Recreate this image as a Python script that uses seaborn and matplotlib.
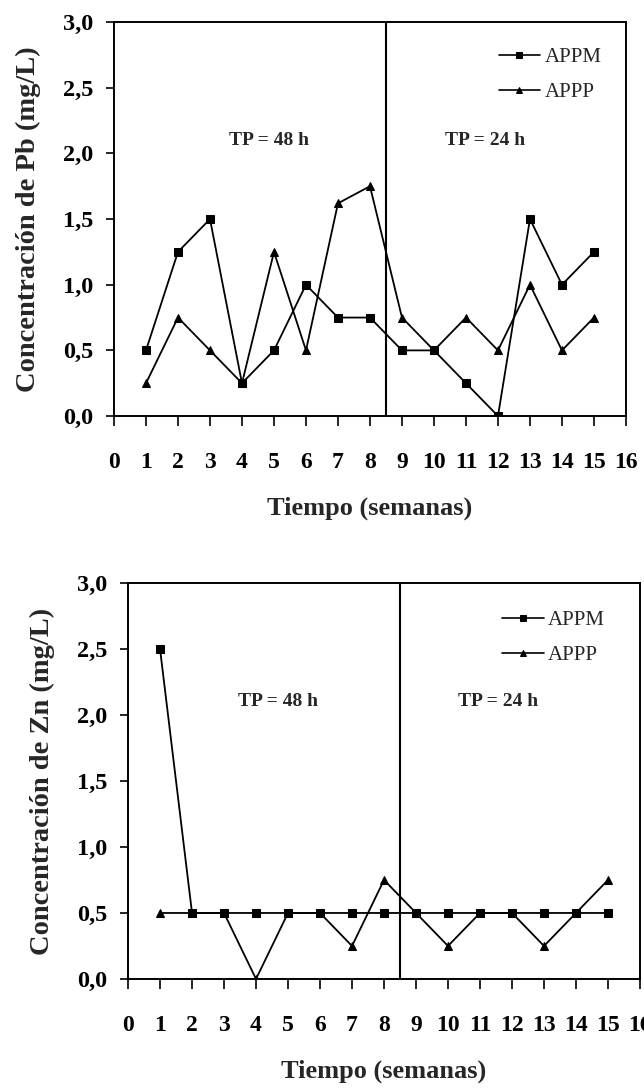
import matplotlib
matplotlib.use("Agg")
import matplotlib.pyplot as plt
import seaborn as sns
import pandas as pd
from matplotlib.ticker import FuncFormatter

weeks = list(range(1, 16))
pb_appm = [0.5, 1.25, 1.5, 0.25, 0.5, 1.0, 0.75, 0.75, 0.5, 0.5, 0.25, 0.0, 1.5, 1.0, 1.25]
pb_appp = [0.25, 0.75, 0.5, 0.25, 1.25, 0.5, 1.62, 1.75, 0.75, 0.5, 0.75, 0.5, 1.0, 0.5, 0.75]
zn_appm = [2.5, 0.5, 0.5, 0.5, 0.5, 0.5, 0.5, 0.5, 0.5, 0.5, 0.5, 0.5, 0.5, 0.5, 0.5]
zn_appp = [0.5, 0.5, 0.5, 0.0, 0.5, 0.5, 0.25, 0.75, 0.5, 0.25, 0.5, 0.5, 0.25, 0.5, 0.75]
series_names = ["APPM", "APPP"]
x_ticks = list(range(0, 17))
y_ticks = [0.0, 0.5, 1.0, 1.5, 2.0, 2.5, 3.0]
period_split = 8.5
period_labels = ["TP = 48 h", "TP = 24 h"]
ylabels = ["Concentración de Pb (mg/L)", "Concentración de Zn (mg/L)"]
xlabel = "Tiempo (semanas)"

sns.set_style("ticks")
plt.rcParams["font.family"] = ["Liberation Serif", "DejaVu Serif"]

fig = plt.figure(figsize=(6.44, 10.88), dpi=100)
ax1 = fig.add_axes([0.177, 0.6176, 0.795, 0.3621])
ax2 = fig.add_axes([0.1988, 0.1002, 0.795, 0.364])

datasets = [(pb_appm, pb_appp), (zn_appm, zn_appp)]
text_pos = [[(4.84, 2.1), (11.6, 2.1)], [(4.7, 2.1), (11.56, 2.1)]]
legend_anchor = [(0.952, 0.935), (0.932, 0.93)]

for ax, (m, p), ylab, tpos, anc in zip([ax1, ax2], datasets, ylabels, text_pos, legend_anchor):
    df = pd.DataFrame({
        "semana": weeks * 2,
        "conc": m + p,
        "serie": [series_names[0]] * len(weeks) + [series_names[1]] * len(weeks),
    })
    sns.lineplot(data=df, x="semana", y="conc", style="serie",
                 markers={"APPM": "s", "APPP": "^"}, dashes=False,
                 color="black", linewidth=1.3, markersize=6,
                 markeredgecolor="black", ax=ax)
    ax.axvline(period_split, color="black", linewidth=1.5)
    ax.set_xlim(0, 16)
    ax.set_ylim(0, 3.0)
    ax.set_xticks(x_ticks)
    ax.set_yticks(y_ticks)
    ax.yaxis.set_major_formatter(FuncFormatter(lambda v, pos: f"{v:.1f}".replace(".", ",")))
    ax.tick_params(axis="both", direction="out", width=1.2, colors="black")
    ax.tick_params(axis="x", length=7, pad=19, labelsize=17)
    ax.tick_params(axis="y", length=6, pad=9, labelsize=17.5)
    for lab in ax.get_xticklabels() + ax.get_yticklabels():
        lab.set_fontweight("bold")
    for s in ax.spines.values():
        s.set_visible(True)
        s.set_linewidth(1.4)
        s.set_color("black")
    ax.set_xlabel(xlabel, fontsize=19, fontweight="bold", labelpad=17)
    ax.set_ylabel(ylab, fontsize=20.5, fontweight="bold", labelpad=16)
    for (tx, ty), t in zip(tpos, period_labels):
        ax.text(tx, ty, t, ha="center", va="center", fontsize=14, fontweight="bold")
    leg = ax.legend(loc="upper right", bbox_to_anchor=anc, frameon=False,
                    fontsize=15, handlelength=2.0, handletextpad=0.2,
                    labelspacing=0.75, borderaxespad=0.0, borderpad=0.0)
    for h in leg.legend_handles:
        h.set_markersize(5)
        h.set_linewidth(1.2)

fig.savefig("out.png", dpi=100)
